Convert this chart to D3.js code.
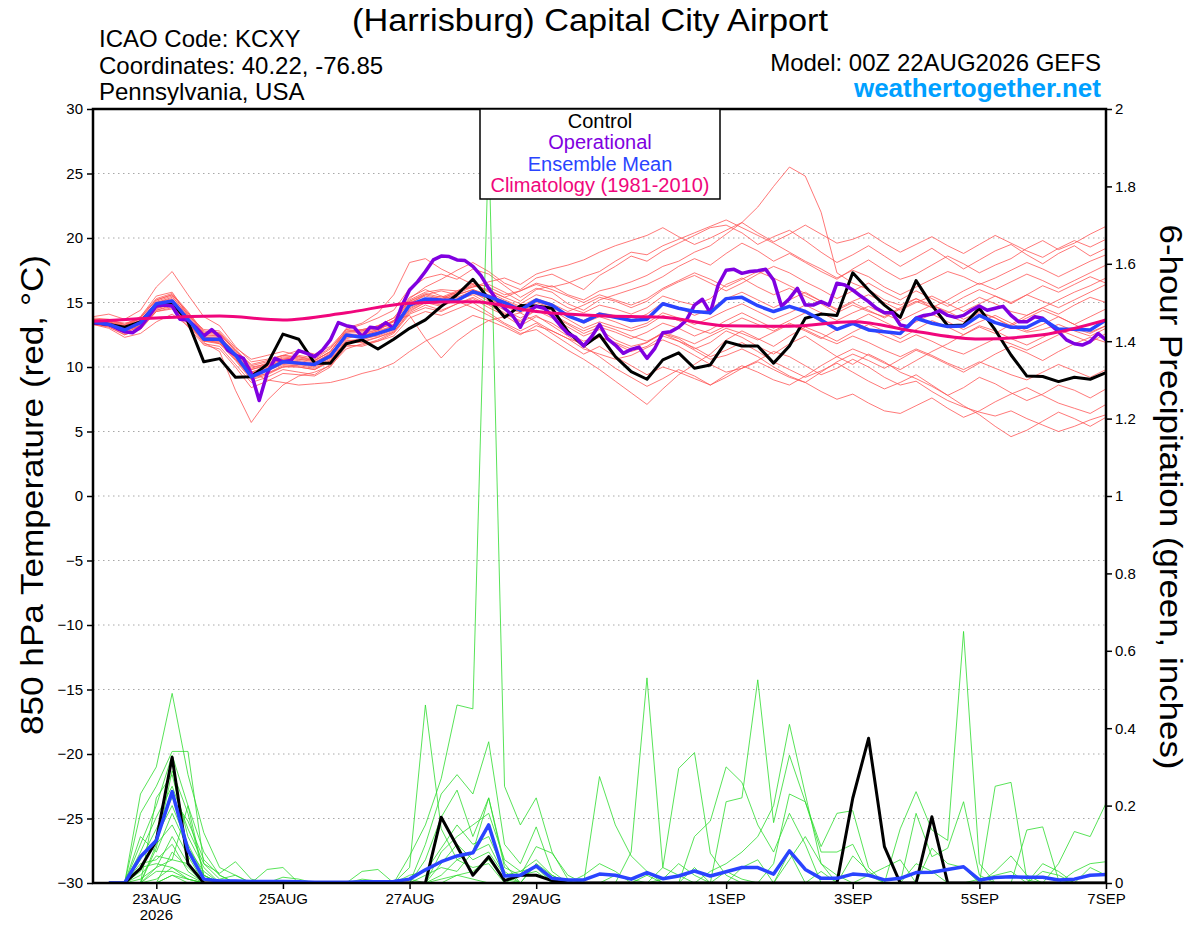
<!DOCTYPE html>
<html>
<head>
<meta charset="utf-8">
<script src="https://cdn.jsdelivr.net/npm/d3@7"></script>
<style>
  body { margin: 0; background: #fff; }
  svg { display: block; font-family: "Liberation Sans", Arial, sans-serif; }
</style>
</head>
<body>
<div id="chart"></div>
<script>
// run: 00Z 22AUG2026 GEFS, 6-hourly members, 3-hourly operational
var runStart = Date.UTC(2026, 7, 22, 0)
var runEnd = Date.UTC(2026, 8, 7, 0)

var dateTicks = [
    Date.UTC(2026, 7, 23), Date.UTC(2026, 7, 25), Date.UTC(2026, 7, 27), Date.UTC(2026, 7, 29),
    Date.UTC(2026, 8, 1), Date.UTC(2026, 8, 3), Date.UTC(2026, 8, 5), Date.UTC(2026, 8, 7)
]
var tempTicks = [-30, -25, -20, -15, -10, -5, 0, 5, 10, 15, 20, 25, 30]
var precipTicks = [0, 0.2, 0.4, 0.6, 0.8, 1, 1.2, 1.4, 1.6, 1.8, 2]

var legendItems = [
    {label: "Control", color: "#000000"},
    {label: "Operational", color: "#8000e0"},
    {label: "Ensemble Mean", color: "#2a44ff"},
    {label: "Climatology (1981-2010)", color: "#f0067c"}
]

// 850 hPa temperature, every 6h from 00Z 22AUG
var controlTemp = [13.44,13.3,13.08,13.5,14.8,15.0,13.5,10.4,10.65,9.2,9.25,10.2,12.55,12.15,10.3,10.3,
    11.8,12.1,11.4,12.15,13.0,13.65,14.7,15.6,16.8,15.3,13.85,14.76,14.73,14.55,12.75,11.63,
    12.5,10.8,9.64,9.05,10.55,11.1,9.9,10.16,11.97,11.63,11.63,10.3,11.63,13.78,14.1,14.0,
    17.3,15.97,14.8,13.85,16.7,14.8,13.2,13.26,14.55,12.87,10.93,9.3,9.26,8.87,9.2,9.05,9.56]

var meanTemp = [13.5,13.3,12.87,13.44,14.9,15.12,13.7,12.15,12.15,10.93,9.25,9.77,10.4,10.3,10.2,10.85,
    12.48,12.3,12.6,13.0,14.8,15.28,15.2,15.15,15.84,15.45,14.99,14.4,15.2,14.8,13.96,13.5,
    14.1,13.85,13.6,13.7,14.9,14.55,14.3,14.2,15.3,15.4,14.75,14.3,14.7,14.3,13.65,12.92,
    13.39,12.87,12.74,12.6,13.78,13.39,13.13,13.18,14.0,13.44,13.08,13.08,13.7,12.92,12.92,12.87,13.65]

// operational is every 3h
var operTemp = [13.44,13.39,13.3,13.0,12.74,12.66,13.08,13.9,14.73,14.8,
    14.73,13.7,13.65,13.08,12.4,12.9,12.35,11.32,10.93,10.67,
    9.5,7.4,9.5,10.67,10.4,10.5,11.27,11.06,10.8,11.32,
    12.1,13.44,13.2,13.08,12.35,13.08,13.0,13.44,13.0,14.7,
    15.97,16.6,17.4,18.3,18.6,18.56,18.3,18.25,17.8,17.1,
    16.1,15.2,14.55,14.0,13.08,14.3,14.7,14.55,14.0,13.26,
    12.6,12.3,11.63,12.35,13.3,12.2,11.7,11.06,11.37,11.53,
    10.67,11.45,12.66,12.74,13.08,13.65,14.8,15.25,14.2,16.36,
    17.5,17.57,17.26,17.4,17.47,17.57,16.75,14.7,15.3,16.1,
    14.8,14.8,15.07,14.8,16.5,16.36,15.97,15.5,15.07,14.55,
    14.2,14.2,13.26,13.13,13.78,14.0,14.1,14.37,14.0,13.85,
    14.0,14.4,14.73,14.4,14.55,14.7,14.0,13.5,13.5,13.9,
    13.78,13.26,12.74,12.1,11.8,11.7,11.97,12.6,12.1]

// climatology, daily at 00Z
var climTemp = [13.55,13.8,13.95,13.65,14.2,14.95,15.05,14.3,13.97,13.85,13.2,13.15,13.5,12.75,12.17,12.5,13.65]

var memberTemp = [
    [13.6,13.4,13.1,13.8,15.2,15.6,14.2,12.8,12.6, 11.2,9.8,10.1,10.6,10.8,10.5,11.2,12.8,12.9,13.1,13.6,15.2,
     15.8,16.0,15.9,16.2,16.4,15.8,15.1,16.0,16.3,15.6,15.2,15.9,16.2,16.6,17.1, 17.8,18.2,18.9,19.4,20.3,21.2,22.4,24.0,25.5,
     24.8,22.0,17.3,16.5,16.0,15.2,14.8,15.3, 14.6,14.0,13.5,14.2,13.8,13.1,12.7,12.9,13.3,12.8,12.4,13.0],
    [13.4,13.2,12.6,13.2,14.6,14.8,13.4,11.9,11.2, 8.2,5.7,7.4,8.6,9.3,9.6,10.1,11.4,11.8,12.0,12.6,14.1,
     14.6,14.3,14.9,15.4,14.8,14.1,13.6,14.4,13.8,13.1,12.4,12.9,12.1,11.6,11.9, 12.6,12.2,11.4,11.9,12.8,12.3,11.6,11.0,11.8,
     12.4,11.6,10.8,10.2,11.0,10.4,9.6,9.1, 8.5,7.8,8.4,9.2,8.7,8.0,7.4,7.9,8.6,8.2,7.6,8.3],
    [13.9,14.1,13.7,14.4,16.2,17.4,15.6,13.9,13.2, 11.6,10.4,10.6,10.9,11.3,11.0,11.6,12.9,13.3,13.8,14.4,16.1,
     16.9,17.2,16.8,17.6,17.2,16.3,15.4,16.1,15.8,14.9,14.4,15.2,15.6,16.0,16.4, 17.0,17.8,18.4,17.9,18.8,19.6,19.0,18.2,18.8,
     18.1,17.4,16.8,17.6,18.3,17.5,16.8,17.2, 17.9,18.6,18.0,17.3,17.9,18.4,19.2,19.8,19.1,19.6,20.3,20.9],
    [13.3,13.0,12.3,12.6,13.5,14.1,13.2,12.2,11.8, 10.8,9.6,9.0,8.8,8.6,8.7,8.8,9.1,9.5,9.8,10.3,11.2,
     12.0,12.6,13.3,14.0,13.6,13.9,14.2,13.5,12.8,12.2,11.4,11.0,10.6,10.9,11.5, 12.1,11.6,10.9,10.2,9.6,9.9,10.5,11.2,10.8,
     10.1,9.4,9.9,10.6,10.0,9.2,8.6,8.9, 8.1,7.4,6.9,6.5,6.2,6.6,6.0,5.5,5.0,5.4,5.9,6.3],
    [13.7,13.5,13.2,13.9,15.5,15.8,14.0,12.5,12.4, 11.0,9.6,10.0,10.5,10.4,10.1,10.8,12.2,12.5,12.9,13.6,15.3,
     16.2,16.8,17.5,18.1,17.4,16.5,16.0,16.9,17.2,16.6,16.0,17.1,17.8,18.6,18.2, 19.0,19.6,20.2,20.8,21.0,20.4,19.5,20.1,20.6,
     19.8,18.9,18.1,18.7,19.4,18.6,17.8,18.5, 19.2,18.4,17.6,18.3,19.0,19.5,18.7,18.0,18.8,19.4,18.6,19.2],
    [13.5,13.3,12.8,13.2,14.5,14.9,13.5,12.0,11.8, 10.5,9.0,9.4,10.0,10.2,10.0,10.6,12.1,12.0,12.3,12.7,14.2,
     14.8,14.4,14.9,15.3,14.6,14.0,13.2,13.9,13.4,12.6,12.0,12.4,11.8,11.2,11.6, 12.4,12.0,11.5,10.8,11.3,11.9,11.2,10.4,9.8,
     9.2,9.7,10.3,9.6,8.9,8.3,8.8,9.4, 8.6,7.8,7.0,6.3,5.4,4.6,5.1,5.8,6.5,6.0,5.4,6.1],
    [13.6,13.6,13.4,13.7,15.0,15.4,14.1,12.6,12.5, 11.3,10.0,10.2,10.8,10.6,10.4,11.0,12.6,12.7,13.0,13.3,14.9,
     15.6,15.3,15.8,16.3,16.0,15.4,14.9,15.6,15.3,14.6,14.2,14.8,14.5,14.1,14.6, 15.5,15.1,14.8,15.3,16.4,16.9,16.2,15.6,16.1,
     15.5,14.9,14.2,14.8,14.3,13.9,14.6,15.3, 14.8,14.2,14.7,15.4,14.9,14.3,14.0,14.6,15.2,15.8,16.3,16.9],
    [13.4,13.1,12.5,12.9,14.3,14.6,13.3,11.8,11.6, 10.2,8.8,9.2,9.8,9.6,9.4,10.2,11.7,11.6,12.0,12.4,13.8,
     14.3,14.0,14.5,15.0,14.2,13.4,12.8,13.4,12.6,11.8,11.0,11.6,10.8,10.1,9.4, 10.0,9.6,9.1,8.6,9.2,9.9,10.4,9.8,9.2,
     8.8,9.6,10.4,11.0,10.5,9.9,10.6,11.3, 10.8,10.2,9.6,10.3,11.0,11.6,11.1,10.5,11.2,11.8,12.3,11.9],
    [13.8,13.7,13.3,13.6,14.8,15.2,14.0,12.9,12.8, 11.5,10.6,10.9,11.2,10.9,10.7,11.5,12.7,12.9,13.2,13.8,15.4,
     16.0,15.5,15.1,14.6,14.0,13.3,12.6,12.9,12.1,11.3,10.6,9.8,8.9,8.0,7.1, 8.3,9.4,10.2,11.0,12.1,12.8,12.2,11.6,12.4,
     13.1,12.6,12.0,12.7,13.3,12.8,12.2,12.9, 13.6,13.1,12.5,13.2,12.8,12.2,11.7,12.3,12.9,12.4,11.9,12.6],
    [13.5,13.4,13.0,13.5,15.1,15.5,13.9,12.3,12.3, 11.0,9.8,10.2,10.6,10.5,10.3,11.1,12.4,12.6,12.9,13.5,15.1,
     15.7,15.4,15.9,16.5,16.2,15.6,15.9,16.5,16.2,16.5,17.0,17.4,18.2,18.9,18.7, 19.4,19.9,20.4,20.9,21.4,20.8,20.2,19.6,18.9,
     18.2,17.6,16.9,17.5,17.0,16.2,15.6,16.2, 16.8,17.4,17.0,16.4,16.9,17.5,18.1,17.6,17.0,17.6,18.2,18.7],
    [13.3,13.2,12.7,13.1,14.4,14.7,13.4,12.0,12.0, 10.6,9.3,9.7,10.2,10.1,9.9,10.5,12.0,12.2,12.4,12.9,14.4,
     15.0,14.7,15.2,15.6,14.9,14.2,13.5,14.0,13.2,12.4,11.6,10.8,9.9,9.2,8.5, 9.1,9.8,9.3,8.6,9.4,10.1,9.6,9.0,8.6,
     9.3,10.1,10.8,11.4,10.9,10.3,9.8,10.5, 11.2,11.8,12.5,13.1,12.6,13.3,14.0,14.6,14.1,14.8,15.4,15.0],
    [13.6,13.5,13.0,13.3,14.6,15.0,13.6,12.1,12.0, 10.7,9.2,9.5,10.1,10.0,9.8,10.4,11.9,11.9,12.3,12.8,14.5,
     15.1,15.0,15.4,15.9,15.3,14.7,14.2,14.8,14.4,13.7,13.0,13.5,13.1,12.8,13.2, 14.0,13.6,13.0,12.6,13.2,13.8,13.3,12.8,13.4,
     12.9,12.3,11.8,12.4,11.9,11.3,10.8,11.4, 10.9,10.3,9.8,10.4,9.9,9.4,9.0,9.6,10.2,9.7,9.2,9.8],
    [13.7,13.6,13.3,13.9,15.3,15.7,14.3,12.7,12.6, 11.4,10.1,10.4,10.9,10.8,10.6,11.4,13.0,13.4,14.2,15.6,18.1,
     18.4,17.6,17.0,16.4,15.8,15.2,14.7,15.3,14.9,14.3,14.8,15.4,15.1,14.6,15.1, 16.0,16.6,17.1,16.5,15.9,16.5,17.2,17.8,17.3,
     16.6,16.0,15.3,15.9,16.5,15.8,15.2,15.9, 15.3,14.7,15.4,16.0,15.5,14.9,15.6,16.3,15.8,16.4,17.0,16.5],
    [13.4,13.3,12.9,13.4,14.8,15.1,13.7,12.3,12.1, 10.9,9.5,9.8,10.3,10.2,10.1,10.7,12.3,12.4,12.8,13.6,14.0,
     12.2,10.7,12.0,12.9,13.6,13.1,12.5,13.2,12.8,12.2,11.8,12.3,11.9,11.4,11.9, 12.7,12.3,11.8,12.4,13.0,12.6,12.1,12.7,13.3,
     12.8,12.2,12.9,13.5,13.0,12.4,11.9,12.5, 12.0,11.4,11.0,11.6,12.2,11.8,11.3,11.9,12.5,13.0,12.6,13.2],
    [13.5,13.4,12.9,13.3,14.7,15.0,13.6,12.2,12.2, 10.9,9.5,9.9,10.4,10.3,10.1,10.9,12.5,12.3,12.7,13.2,14.7,
     15.3,15.2,15.6,16.0,15.5,14.9,14.3,14.8,14.1,13.4,12.8,13.3,12.9,12.4,12.0, 12.6,12.0,11.3,10.6,10.9,11.4,10.8,10.0,9.3,
     8.8,8.1,7.5,7.9,7.2,6.6,6.4,7.0, 7.6,6.8,6.1,6.6,7.3,7.9,8.4,7.8,7.2,6.8,6.4,7.1],
    [13.6,13.5,13.1,13.6,15.0,15.3,13.8,12.4,12.4, 11.1,9.9,10.3,10.7,10.6,10.5,11.2,12.7,12.8,13.1,13.5,15.0,
     15.5,15.2,15.7,16.2,16.6,16.9,16.4,17.2,17.6,17.9,18.3,18.9,19.4,19.8,20.2, 20.8,20.1,19.5,20.0,20.6,21.2,20.4,19.7,20.3,
     21.0,20.3,19.6,19.9,20.4,19.6,18.9,19.5, 20.1,19.4,18.8,19.5,20.2,19.6,19.0,18.5,19.2,19.8,19.3,19.9],
    [13.5,13.4,13.0,13.5,14.9,15.2,13.8,12.3,12.2, 11.0,9.6,10.0,10.5,10.4,10.2,11.0,12.5,12.4,12.8,13.2,14.8,
     15.2,15.5,15.2,15.7,15.3,14.8,14.3,15.0,14.6,14.0,13.6,14.2,14.0,13.6,14.1, 15.0,14.6,14.0,14.5,15.3,15.8,15.2,14.6,15.2,
     15.8,15.1,14.5,15.1,15.6,15.0,14.4,15.0, 15.5,14.9,14.3,14.9,15.5,15.0,15.6,15.1,14.6,15.2,15.8,16.4],
    [13.3,13.1,12.5,13.0,14.3,14.5,13.1,11.7,11.4, 10.0,8.4,8.9,9.5,9.4,9.3,10.0,11.6,11.7,12.1,12.7,14.3,
     15.0,15.3,15.8,16.4,15.9,15.4,15.9,16.4,16.0,15.5,15.0,15.6,15.2,14.8,15.3, 16.1,16.7,17.3,16.8,16.2,16.8,17.4,16.9,16.3,
     15.7,15.1,14.4,15.0,14.4,13.8,14.5,15.1, 14.6,15.2,15.9,16.5,16.0,16.6,17.2,16.7,16.1,16.7,17.3,17.9],
    [13.7,13.6,13.2,13.8,15.2,15.6,14.2,12.6,12.7, 11.3,10.2,10.5,10.9,10.7,10.5,11.2,12.9,12.8,13.2,13.8,15.1,
     15.6,15.9,15.6,16.0,15.6,15.1,14.6,15.1,14.7,14.0,13.4,13.9,13.5,13.0,13.4, 14.2,13.8,13.3,13.8,14.4,14.9,14.3,13.7,14.2,
     14.8,14.2,13.6,14.2,14.7,14.1,13.6,14.2, 14.8,14.3,13.7,14.3,13.8,13.2,13.8,14.4,13.9,13.3,13.9,14.5],
    [13.4,13.2,12.8,13.2,14.4,14.8,13.5,12.0,11.9, 10.6,9.1,9.5,10.0,10.0,9.8,10.5,12.0,12.1,12.5,13.0,14.6,
     15.1,14.8,15.3,15.8,15.1,14.4,13.8,14.4,14.0,13.3,12.6,13.1,12.7,12.2,12.7, 13.4,13.0,12.4,12.9,13.6,14.2,13.6,13.0,13.6,
     14.2,13.5,12.9,13.5,14.1,13.5,12.9,13.5, 14.1,13.5,12.9,13.5,14.0,13.4,12.8,13.3,13.9,13.3,12.7,13.2]
]

// 6-hour precipitation (inches), valid 06Z 22AUG .. 00Z 7SEP
var controlPrecip = [0,0,.038,.11,.325,.05,0,0, 0,0,0,0,0,0,0,0, 0,0,0,0,0,.17,.095,.02,
    .068,.006,.02,.02,.006,0,0,0, 0,0,0,0,0,0,0,0, 0,0,0,0,0,0,0,.219,
    .374,.094,0,0,.171,0,0,0, 0,0,0,0,0,0,0,0]

var meanPrecip = [0,0,.068,.11,.236,.085,.01,.005, .005,.004,.004,.004,.003,.002,.002,.002, .003,.003,.004,.01,.034,.055,.07,.078,
    .15,.018,.02,.044,.012,.008,.008,.023, .02,.01,.027,.011,.018,.031,.018,.029, .04,.04,.023,.083,.035,.012,.012,.023,
    .02,.008,.012,.027,.028,.035,.042,.008, .014,.016,.015,.015,.008,.01,.02,.022]

var memberPrecip = [
    [0,0,.23,.30,.49,.28,.13,.04, .02,0,0,0,0,0,0,0, 0,0,0,.04,.46,.14,.06,.08, .22,.05,0,0,0,0,0,0,
     0,0,0,0,0,0,0,0, 0,0,0,0,0,0,0,0, 0,0,.14,.236,.137,.11,.65,.05, 0,0,0,0,0,0,0,0],
    [0,0,.18,.25,.34,.34,.05,.01, .02,0,0,0,0,0,0,0, 0,0,0,.07,.15,.27,.46,.45, 1.92,.25,.15,.22,.08,.01,0,0,
     0,0,0,0,0,0,0,0, 0,0,0,0,0,0,0,0, 0,0,0,.18,.068,.09,.21,.02, 0,0,0,0,0,0,0,0],
    [0,0,.10,.20,.33,.20,.02,0, 0,0,0,0,0,0,0,0, 0,0,0,0,.10,.23,.28,.23, .365,.10,.05,.145,.03,0,0,0,
     0,0,0,0,0,0,0,0, 0,0,0,0,0,0,0,0, 0,0,0,0,0,0,0,0, .25,.26,.008,0,0,0,0,0],
    [0,0,.08,.17,.25,.14,.05,.025, .055,.01,0,0,0,0,0,0, 0,0,0,0,.06,.17,.24,.12, .22,.04,.02,.094,.077,.02,0,0,
     0,0,0,0,0,0,0,0, 0,0,0,0,0,0,0,0, 0,0,0,0,0,0,0,0, 0,0,.137,.145,.008,0,0,0],
    [0,0,.03,.12,.20,.10,.02,0, 0,0,0,.015,.01,0,0,0, 0,0,0,.02,.03,.09,.15,.10, .12,.03,0,.05,0,0,0,0,
     0,0,0,0,0,0,0,0, 0,0,0,0,0,0,0,0, 0,0,0,0,0,0,0,0, 0,0,0,0,.05,.133,.12,.206],
    [0,0,0,.10,.15,.07,0,0, 0,0,0,0,0,0,0,0, 0,0,0,0,0,.05,.10,.06, .08,.02,.03,.04,0,0,0,0,
     0,0,0,0,0,0,0,0, 0,0,0,0,0,0,0,0, 0,0,0,0,0,0,0,0, 0,0,0,0,0,.03,.05,.055],
    [0,0,.05,.06,.10,.03,0,0, 0,0,0,0,0,0,0,0, .01,.005,0,0,0,.02,.06,.04, .05,0,.02,.03,0,0,0,0,
     0,0,0,0,0,0,0,0, 0,0,0,0,0,0,0,.07, .03,0,0,.05,.03,0,0,0, 0,0,0,0,0,0,0,0],
    [0,0,.02,.07,.06,.20,.08,.02, 0,0,0,0,0,0,0,0, 0,0,0,0,.02,.04,.03,.08, .10,.02,0,0,0,0,0,0,
     0,0,0,0,0,0,0,0, 0,0,0,0,0,0,0,0, 0,0,0,0,.09,.05,.04,0, 0,0,0,0,0,0,0,0],
    [0,0,0,.03,.03,.01,0,0, 0,0,0,0,0,0,0,0, 0,0,0,0,0,0,.02,.03, .06,.01,0,.05,.02,0,0,0,
     0,0,0,0,0,0,0,0, 0,0,0,0,0,0,0,0, 0,0,0,0,0,0,0,0, .03,.07,.02,0,0,0,0,0],
    [0,0,0,.22,.28,.12,.04,0, 0,0,0,0,0,0,0,0, 0,0,0,0,0,.08,.12,.15, .18,.06,.03,.06,.02,0,0,0,
     0,0,0,0,0,0,0,0, 0,0,0,0,0,0,0,0, 0,0,0,0,0,0,0,0, 0,0,0,.03,.02,0,.04,.02],
    [0,0,.12,.08,.18,.09,.03,0, 0,0,0,0,0,0,0,0, 0,0,0,0,0,0,0,0, 0,0,0,0,0,0,0,.275,
     .15,.07,.03,0,0,0,0,0, 0,0,0,0,0,0,0,0, .02,.04,.06,0,0,0,0,0, 0,0,0,0,0,0,0,0],
    [0,0,0,.04,.12,.05,0,0, 0,0,0,0,0,0,0,0, 0,0,0,0,0,0,0,0, 0,0,0,0,0,0,0,0,
     0,.08,.53,.04,.02,0,0,0, 0,0,0,0,0,0,0,0, 0,0,0,0,0,0,0,.01, .02,.03,0,.05,.03,0,0,0],
    [0,0,0,0,.08,.04,0,0, 0,0,0,0,0,0,0,0, 0,0,0,0,0,0,0,0, 0,0,0,0,0,0,0,0,
     0,0,0,.04,.296,.337,.077,.02, 0,0,0,0,0,0,0,0, 0,0,0,0,0,0,0,0, 0,0,0,0,0,0,0,0],
    [0,0,.06,.14,.22,.16,.06,.02, 0,0,0,0,0,0,0,0, 0,0,0,0,0,0,0,0, 0,0,0,0,0,0,0,0,
     0,0,0,0,0,.12,.16,.30, .26,.15,.08,.18,.10,0,0,0, 0,0,0,0,0,0,0,0, 0,0,0,0,0,0,0,0],
    [0,0,0,0,.02,.01,0,0, 0,0,.035,.04,0,0,0,0, 0,0,0,0,0,0,0,0, 0,0,0,0,0,0,0,0,
     0,0,0,0,0,0,0,.21, .22,.525,.156,.33,.21,.094,.18,.187, .04,0,0,0,0,0,0,0, 0,0,0,0,0,0,0,0],
    [0,0,0,.01,.04,.02,0,0, 0,0,0,0,0,0,0,0, .03,.035,0,0,0,0,0,0, 0,0,0,0,0,0,0,0,
     0,0,0,0,0,0,.03,.05, .08,.12,.20,.41,.23,.05,.02,0, 0,0,0,0,0,0,0,0, 0,0,0,0,0,0,0,0],
    [0,0,0,.09,.29,.18,.02,0, 0,0,0,0,0,0,0,0, 0,0,0,0,0,0,0,0, 0,0,0,0,0,0,0,0,
     0,0,0,0,0,0,0,0, 0,0,.05,.23,.21,.08,.08,.10, .02,0,0,0,0,0,0,0, 0,0,0,0,0,0,0,0],
    [0,0,.04,.05,.04,.01,0,0, 0,0,0,0,0,0,0,0, 0,0,0,0,0,.01,.02,.01, 0,0,0,0,0,0,0,0,
     0,0,0,.01,.05,.02,0,0, .04,.06,0,.08,0,.03,0,0, 0,0,0,0,0,0,0,0, 0,0,0,0,0,0,0,0],
    [0,0,0,0,.02,0,0,0, 0,0,0,0,0,0,0,0, 0,0,0,0,0,0,0,0, 0,0,0,0,0,0,.02,.05,
     .03,0,.02,0,0,0,0,0, 0,0,0,.06,.12,.05,0,0, 0,0,0,0,0,0,0,0, 0,0,0,0,0,0,0,0],
    [0,0,.01,.04,.06,.05,0,0, 0,0,0,0,0,0,0,0, 0,0,0,.01,0,0,0,0, 0,0,0,0,0,0,0,0,
     .02,.01,0,0,0,.04,0,.03, .01,0,0,0,0,0,0,0, 0,0,0,0,0,0,0,0, 0,0,0,0,0,0,0,0]
]

const width = 1200,
      height = 927,
      plot = {left: 93, right: 1106, top: 109, bottom: 883}

var x = d3.scaleUtc()
    .domain([new Date(runStart), new Date(runEnd)])
    .range([plot.left, plot.right])
var yT = d3.scaleLinear().domain([-30, 30]).range([plot.bottom, plot.top])
var yP = d3.scaleLinear().domain([0, 2]).range([plot.bottom, plot.top])

function stepTime(i, hours){
    return new Date(runStart + i * hours * 3600 * 1000)
}

var svg = d3.select("#chart")
    .append("svg")
    .attr("width", width)
    .attr("height", height)

svg.append("rect").attr("width", width).attr("height", height).attr("fill", "#fff")

svg.append("clipPath").attr("id", "plotclip")
    .append("rect")
    .attr("x", plot.left).attr("y", plot.top)
    .attr("width", plot.right - plot.left).attr("height", plot.bottom - plot.top)

// dotted grid on the temperature ticks
svg.append("g")
    .selectAll("line")
    .data(tempTicks.filter(d => d > -30 && d < 30))
    .enter()
    .append("line")
    .attr("x1", plot.left).attr("x2", plot.right)
    .attr("y1", d => yT(d)).attr("y2", d => yT(d))
    .attr("stroke", "#a8a8a8")
    .attr("stroke-width", 1)
    .attr("stroke-dasharray", "1.5,3.5")

var lines = svg.append("g").attr("clip-path", "url(#plotclip)")

var tempLine6 = d3.line().x((d, i) => x(stepTime(i, 6))).y(d => yT(d))
var tempLine3 = d3.line().x((d, i) => x(stepTime(i, 3))).y(d => yT(d))
var climLine = d3.line().x((d, i) => x(stepTime(i, 24))).y(d => yT(d)).curve(d3.curveMonotoneX)
// precip starts at the first 6h period
var precipLine = d3.line().x((d, i) => x(stepTime(i + 1, 6))).y(d => yP(d))

lines.selectAll(".member-t")
    .data(memberTemp)
    .enter()
    .append("path")
    .attr("class", "member-t")
    .attr("d", tempLine6)
    .attr("fill", "none")
    .attr("stroke", "#ff5555")
    .attr("stroke-width", 0.8)

lines.selectAll(".member-p")
    .data(memberPrecip)
    .enter()
    .append("path")
    .attr("class", "member-p")
    .attr("d", precipLine)
    .attr("fill", "none")
    .attr("stroke", "#2ddc2d")
    .attr("stroke-width", 0.8)

function boldLine(data, gen, color, w){
    lines.append("path")
        .attr("d", gen(data))
        .attr("fill", "none")
        .attr("stroke", color)
        .attr("stroke-width", w)
        .attr("stroke-linejoin", "round")
}

boldLine(controlPrecip, precipLine, "#000", 3)
boldLine(meanPrecip, precipLine, "#2a44ff", 3.5)
boldLine(controlTemp, tempLine6, "#000", 3)
boldLine(operTemp, tempLine3, "#8000e0", 3.5)
boldLine(meanTemp, tempLine6, "#2a44ff", 3.5)
boldLine(climTemp, climLine, "#f0067c", 3)

// axes
var tickFont = "15px"

var leftAxis = svg.append("g")
    .attr("transform", "translate(" + plot.left + ",0)")
    .call(d3.axisLeft(yT).tickValues(tempTicks).tickSize(6).tickPadding(4))
var rightAxis = svg.append("g")
    .attr("transform", "translate(" + plot.right + ",0)")
    .call(d3.axisRight(yP).tickValues(precipTicks).tickSize(6).tickPadding(3)
        .tickFormat(d => d3.format("~g")(+d.toFixed(1))))
var bottomAxis = svg.append("g")
    .attr("transform", "translate(0," + plot.bottom + ")")
    .call(d3.axisBottom(x).tickValues(dateTicks.map(d => new Date(d))).tickSize(6).tickPadding(4)
        .tickFormat(d => d3.utcFormat("%-d%b")(d).toUpperCase()))

;[leftAxis, rightAxis, bottomAxis].forEach(function(a){
    a.select(".domain").remove()
    a.selectAll(".tick line").attr("stroke", "#000").attr("stroke-width", 1.5)
    a.selectAll(".tick text")
        .attr("fill", "#000")
        .style("font-size", tickFont)
        .style("font-family", "'Liberation Sans', Arial, sans-serif")
})

svg.append("text")
    .attr("x", x(new Date(dateTicks[0])))
    .attr("y", 920)
    .attr("text-anchor", "middle")
    .style("font-size", tickFont)
    .text("2026")

// frame
svg.append("rect")
    .attr("x", plot.left).attr("y", plot.top)
    .attr("width", plot.right - plot.left).attr("height", plot.bottom - plot.top)
    .attr("fill", "none")
    .attr("stroke", "#000")
    .attr("stroke-width", 2.5)

// legend box
var legend = svg.append("g")
legend.append("rect")
    .attr("x", 480).attr("y", plot.top)
    .attr("width", 240).attr("height", 90)
    .attr("fill", "#fff")
    .attr("stroke", "#000")
    .attr("stroke-width", 1.5)
legend.selectAll("text")
    .data(legendItems)
    .enter()
    .append("text")
    .attr("x", 600)
    .attr("y", (d, i) => 128 + i * 21.4)
    .attr("text-anchor", "middle")
    .attr("fill", d => d.color)
    .style("font-size", "20px")
    .text(d => d.label)

// titles
svg.append("text")
    .attr("x", 590).attr("y", 31)
    .attr("text-anchor", "middle")
    .attr("textLength", 476)
    .attr("lengthAdjust", "spacingAndGlyphs")
    .style("font-size", "31px")
    .text("(Harrisburg) Capital City Airport")

var infoLeft = ["ICAO Code: KCXY", "Coordinates: 40.22, -76.85", "Pennsylvania, USA"]
svg.append("g").selectAll("text")
    .data(infoLeft)
    .enter()
    .append("text")
    .attr("x", 99)
    .attr("y", (d, i) => 47 + i * 26.5)
    .style("font-size", "24px")
    .text(d => d)

svg.append("text")
    .attr("x", 1101).attr("y", 71)
    .attr("text-anchor", "end")
    .style("font-size", "24px")
    .text("Model: 00Z 22AUG2026 GEFS")

svg.append("text")
    .attr("x", 1101).attr("y", 97)
    .attr("text-anchor", "end")
    .attr("fill", "#00a0ff")
    .style("font-size", "26px")
    .style("font-weight", "bold")
    .text("weathertogether.net")

svg.append("text")
    .attr("transform", "translate(43,495) rotate(-90)")
    .attr("text-anchor", "middle")
    .attr("textLength", 480)
    .attr("lengthAdjust", "spacingAndGlyphs")
    .style("font-size", "31px")
    .text("850 hPa Temperature (red, \u00B0C)")

svg.append("text")
    .attr("transform", "translate(1160,497) rotate(90)")
    .attr("text-anchor", "middle")
    .attr("textLength", 545)
    .attr("lengthAdjust", "spacingAndGlyphs")
    .style("font-size", "31px")
    .text("6-hour Precipitation (green, inches)")
</script>
</body>
</html>
